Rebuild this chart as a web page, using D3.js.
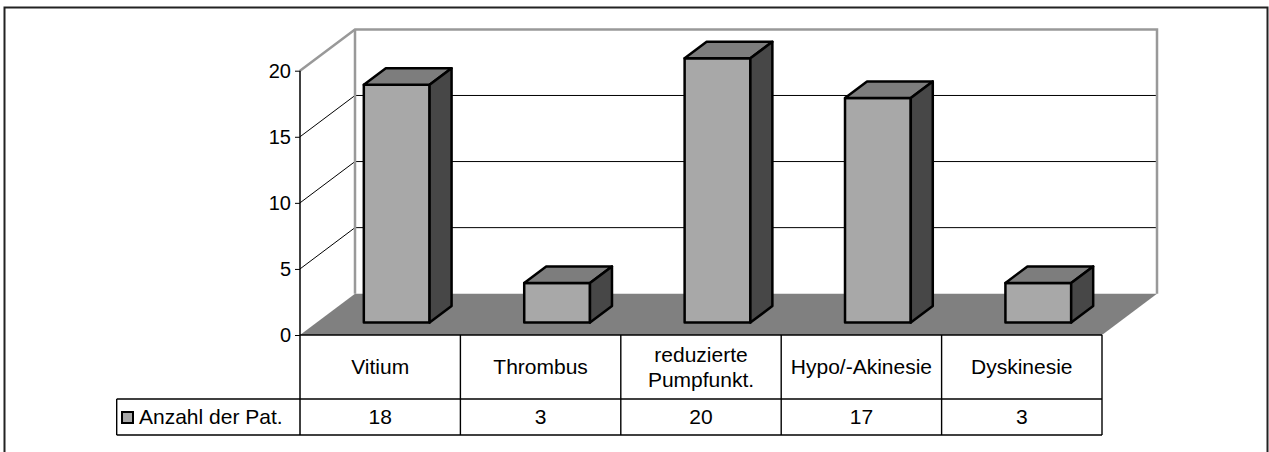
<!DOCTYPE html>
<html>
<head>
<meta charset="utf-8">
<script src="https://cdn.jsdelivr.net/npm/d3@7"></script>
<style>
  body { margin: 0; background: #fff; }
  svg { display: block; font-family: "Liberation Sans", Arial, sans-serif; }
</style>
</head>
<body>
<script>
// data
const categories = ["Vitium", "Thrombus", "reduzierte Pumpfunkt.", "Hypo/-Akinesie", "Dyskinesie"];
const categoryLines = [["Vitium"], ["Thrombus"], ["reduzierte", "Pumpfunkt."], ["Hypo/-Akinesie"], ["Dyskinesie"]];
const values = [18, 3, 20, 17, 3];
const seriesName = "Anzahl der Pat.";
const yTicks = [0, 5, 10, 15, 20];

const W = 1269, H = 452;
const plot = { left: 300, right: 1102, top: 70.7, bottom: 335 };
const depth = { dx: 55, dy: -41.3 };      // back wall offset
const barDepth = [0.3, 0.7];              // bar front / back as share of depth
const table = { legendLeft: 116.7, row1: 399, row2: 435 };

const colFront = "#a8a8a8", colTop = "#7d7d7d", colSide = "#474747";
const colFloor = "#808080", colWall = "#999";

const svg = d3.select("body").append("svg").attr("width", W).attr("height", H);

const y = d3.scaleLinear().domain([0, 20]).range([plot.bottom, plot.top]);
const x = d3.scaleBand().domain(categories).range([plot.left, plot.right])
  .paddingInner(0.59).paddingOuter(0.295);
const col = d3.scaleBand().domain(categories).range([plot.left, plot.right]);

// outer frame
svg.append("rect")
  .attr("x", 4.5).attr("y", 7.5).attr("width", 1263).attr("height", 460)
  .attr("fill", "none").attr("stroke", "#222").attr("stroke-width", 2);

const line = d3.line();
const P = (px, py, t) => [px + depth.dx * t, py + depth.dy * t];

// back wall + side wall gridlines
const grid = svg.append("g");
yTicks.filter((v) => v > 0 && v < 20).forEach((v) => {
  grid.append("path")
    .attr("d", line([[plot.left, y(v)], P(plot.left, y(v), 1), P(plot.right, y(v), 1)]))
    .attr("fill", "none").attr("stroke", "#000").attr("stroke-width", 1);
});

// wall edges (gray)
grid.append("path")
  .attr("d", line([[plot.left, y(20)], P(plot.left, y(20), 1), P(plot.right, y(20), 1),
    P(plot.right, y(0), 1)]))
  .attr("fill", "none").attr("stroke", colWall).attr("stroke-width", 2.5);
grid.append("path")
  .attr("d", line([P(plot.left, y(20), 1), P(plot.left, y(0), 1)]))
  .attr("fill", "none").attr("stroke", colWall).attr("stroke-width", 2.5);

// floor
svg.append("path")
  .attr("d", line([[plot.left, y(0)], P(plot.left, y(0), 1), P(plot.right, y(0), 1),
    [plot.right, y(0)]]) + "Z")
  .attr("fill", colFloor);

// bars
const bars = svg.append("g").selectAll("g").data(categories).join("g")
  .attr("stroke", "#000").attr("stroke-width", 2.5).attr("stroke-linejoin", "round");

bars.each(function (c, i) {
  const g = d3.select(this);
  const x0 = x(c), x1 = x(c) + x.bandwidth();
  const yt = y(values[i]), yb = y(0);
  const f0 = barDepth[0], f1 = barDepth[1];
  // front
  g.append("path")
    .attr("d", line([P(x0, yt, f0), P(x1, yt, f0), P(x1, yb, f0), P(x0, yb, f0)]) + "Z")
    .attr("fill", colFront);
  // top
  g.append("path")
    .attr("d", line([P(x0, yt, f0), P(x0, yt, f1), P(x1, yt, f1), P(x1, yt, f0)]) + "Z")
    .attr("fill", colTop);
  // side
  g.append("path")
    .attr("d", line([P(x1, yt, f0), P(x1, yt, f1), P(x1, yb, f1), P(x1, yb, f0)]) + "Z")
    .attr("fill", colSide);
});

// y axis
const axis = svg.append("g")
  .attr("transform", `translate(${plot.left},0)`)
  .call(d3.axisLeft(y).tickValues(yTicks).tickSize(5).tickPadding(4));
axis.select(".domain").remove();
axis.selectAll("line").attr("stroke", "#000");
axis.selectAll("text").attr("font-size", 20).attr("fill", "#000")
  .attr("font-family", "Liberation Sans, Arial, sans-serif");

svg.append("line")
  .attr("x1", plot.left).attr("x2", plot.left)
  .attr("y1", y(20)).attr("y2", table.row2)
  .attr("stroke", "#000").attr("stroke-width", 1.5);

// data table
const tg = svg.append("g").attr("stroke", "#000").attr("stroke-width", 1.4);
[[plot.left, plot.bottom], [table.legendLeft, table.row1], [table.legendLeft, table.row2]]
  .forEach(([x0, yy]) => {
    tg.append("line").attr("x1", x0).attr("x2", plot.right).attr("y1", yy).attr("y2", yy);
  });
categories.forEach((c) => {
  const xx = col(c) + col.bandwidth();
  tg.append("line").attr("x1", xx).attr("x2", xx).attr("y1", plot.bottom).attr("y2", table.row2);
});
tg.append("line").attr("x1", table.legendLeft).attr("x2", table.legendLeft)
  .attr("y1", table.row1).attr("y2", table.row2);

const fs = 21;
const labels = svg.append("g").attr("font-size", fs).attr("text-anchor", "middle").attr("fill", "#000");
categories.forEach((c, i) => {
  const cx = col(c) + col.bandwidth() / 2;
  const lines = categoryLines[i];
  const lh = 25.7;
  const cy = (plot.bottom + table.row1) / 2 - (lines.length - 1) * lh / 2;
  const t = labels.append("text").attr("x", cx).attr("y", cy).attr("dy", "0.35em");
  lines.forEach((s, k) => {
    t.append("tspan").attr("x", cx).attr("y", cy + k * lh).attr("dy", "0.35em").text(s);
  });
  labels.append("text").attr("x", cx).attr("y", (table.row1 + table.row2) / 2)
    .attr("dy", "0.35em").text(values[i]);
});

// legend key
svg.append("rect")
  .attr("x", 122).attr("y", 412).attr("width", 11).attr("height", 11)
  .attr("fill", colFront).attr("stroke", "#000").attr("stroke-width", 2);
svg.append("text")
  .attr("x", 139).attr("y", (table.row1 + table.row2) / 2).attr("dy", "0.35em")
  .attr("font-size", fs).text(seriesName);
</script>
</body>
</html>
